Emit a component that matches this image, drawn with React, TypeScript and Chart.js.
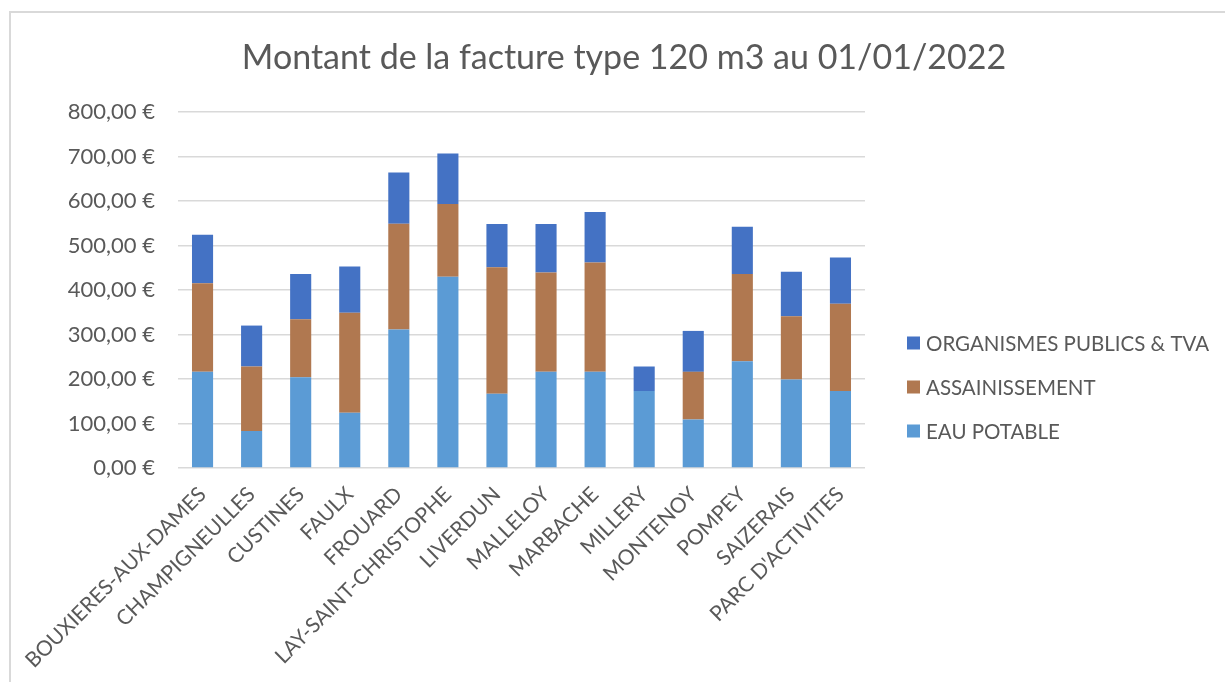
import React, { useEffect, useRef } from "react";
import { Chart, registerables } from "chart.js";

Chart.register(...registerables);

const categories = [
  "BOUXIERES-AUX-DAMES",
  "CHAMPIGNEULLES",
  "CUSTINES",
  "FAULX",
  "FROUARD",
  "LAY-SAINT-CHRISTOPHE",
  "LIVERDUN",
  "MALLELOY",
  "MARBACHE",
  "MILLERY",
  "MONTENOY",
  "POMPEY",
  "SAIZERAIS",
  "PARC D'ACTIVITES",
];

const eauPotable = [216, 83, 204, 124, 311, 430, 167, 216, 216, 173, 109, 240, 199, 173];
const assainissement = [199, 145, 130, 225, 238, 163, 284, 223, 246, 0, 107, 196, 142, 196];
const organismes = [109, 92, 102, 104, 115, 114, 97, 109, 113, 55, 92, 106, 100, 104];

const yTicks = [0, 100, 200, 300, 400, 500, 600, 700, 800];

const FONT = "Lato";
const GRAY = "#595959";

// Legend drawn to the right of the plot, items in reverse stacking order
const sideLegend = {
  id: "sideLegend",
  afterDraw(chart: any) {
    const { ctx, chartArea } = chart;
    const ds = chart.data.datasets.slice().reverse();
    const x0 = chartArea.right + 42;
    const rowGap = 44;
    const y0 = chartArea.top + 231;
    ctx.save();
    ctx.font = `20.5px ${FONT}`;
    ctx.textBaseline = "middle";
    ctx.textAlign = "left";
    ds.forEach((d: any, i: number) => {
      const y = y0 + i * rowGap;
      ctx.fillStyle = d.backgroundColor;
      ctx.fillRect(x0, y - 6.5, 13, 13);
      ctx.fillStyle = GRAY;
      ctx.fillText(d.label, x0 + 19, y + 1);
    });
    ctx.restore();
  },
};

export default function App() {
  const ref = useRef<HTMLCanvasElement | null>(null);

  useEffect(() => {
    if (!ref.current) return;
    const chart = new Chart(ref.current, {
      type: "bar",
      data: {
        labels: categories,
        datasets: [
          { label: "EAU POTABLE", data: eauPotable, backgroundColor: "#5B9BD5", stack: "s" },
          { label: "ASSAINISSEMENT", data: assainissement, backgroundColor: "#B07850", stack: "s" },
          { label: "ORGANISMES PUBLICS & TVA", data: organismes, backgroundColor: "#4472C4", stack: "s" },
        ],
      },
      plugins: [sideLegend],
      options: {
        animation: false,
        responsive: false,
        maintainAspectRatio: false,
        layout: { padding: { left: 23, right: 0, top: 0, bottom: 3 } },
        datasets: { bar: { barPercentage: 0.43, categoryPercentage: 1 } },
        plugins: {
          title: {
            display: true,
            text: "Montant de la facture type 120 m3 au 01/01/2022",
            color: GRAY,
            font: { family: FONT, size: 34, weight: "normal" },
            padding: { top: 37.6, bottom: 33.6 },
          },
          legend: { display: false },
          tooltip: { enabled: false },
        },
        scales: {
          x: {
            stacked: true,
            grid: { display: false },
            border: { display: false },
            ticks: {
              color: GRAY,
              font: { family: FONT, size: 21 },
              maxRotation: 45,
              minRotation: 45,
              autoSkip: false,
              padding: 6,
            },
          },
          y: {
            stacked: true,
            min: 0,
            max: 800,
            afterFit: (s: any) => {
              s.width = 155;
            },
            afterBuildTicks: (s: any) => {
              s.ticks = yTicks.map((v) => ({ value: v }));
            },
            grid: { color: "#D9D9D9", lineWidth: 1.5, drawTicks: false },
            border: { display: false },
            ticks: {
              color: GRAY,
              font: { family: FONT, size: 22 },
              padding: 23,
              callback: (v: any) => Number(v).toFixed(2).replace(".", ",") + " €",
            },
          },
          pad: {
            position: "right",
            display: true,
            grid: { display: false },
            border: { display: false },
            ticks: { display: false },
            afterFit: (s: any) => {
              s.width = 360;
            },
          },
        },
      },
    } as any);
    return () => chart.destroy();
  }, []);

  return (
    <div
      style={{
        position: "fixed",
        left: 0,
        top: 0,
        width: 1225,
        height: 682,
        background: "#fff",
        overflow: "hidden",
      }}
    >
      <div
        style={{
          position: "absolute",
          left: 9,
          top: 11,
          width: 1400,
          height: 900,
          border: "2px solid #D9D9D9",
        }}
      />
      <canvas
        ref={ref}
        width={1225}
        height={682}
        style={{ position: "absolute", left: 0, top: 0, width: 1225, height: 682 }}
      />
    </div>
  );
}
